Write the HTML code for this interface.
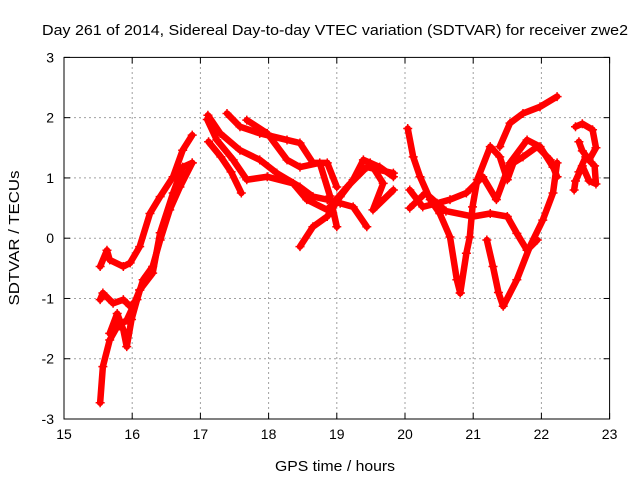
<!DOCTYPE html>
<html><head><meta charset="utf-8"><style>
body{margin:0;background:#fff;}
svg{display:block;font-family:"Liberation Sans",sans-serif;}
</style></head><body>
<svg id="chart" width="640" height="480">
<rect width="640" height="480" fill="#fff"/>
<text x="335" y="35" font-size="14.5" text-anchor="middle" textLength="586" lengthAdjust="spacingAndGlyphs">Day 261 of 2014, Sidereal Day-to-day VTEC variation (SDTVAR) for receiver zwe2</text>
<text x="335" y="471" font-size="14.5" text-anchor="middle" textLength="120" lengthAdjust="spacingAndGlyphs">GPS time / hours</text>
<text x="19" y="238" font-size="14.5" text-anchor="middle" textLength="135" lengthAdjust="spacingAndGlyphs" transform="rotate(-90 19 238)">SDTVAR / TECUs</text>
<g id="grid"></g><g id="ticks"></g><g id="marks"></g>
<rect x="64" y="57.4" width="545.6" height="361.6" fill="none" stroke="#000" stroke-width="1"/>
</svg>
<script>
const xTicks=[15,16,17,18,19,20,21,22,23];
const yTicks=[-3,-2,-1,0,1,2,3];
const trackA=[[15.53,-2.73],[15.57,-2.13],[15.67,-1.69],[15.78,-1.47],[15.92,-1.36],[16.01,-1.14],[16.11,-0.86],[16.3,-0.58],[16.41,0.09],[16.6,0.75],[16.74,1.18],[16.88,1.25]];
const trackB=[[15.53,-0.47],[15.63,-0.2],[15.67,-0.36],[15.87,-0.47],[15.97,-0.41],[16.11,-0.14],[16.26,0.41],[16.41,0.69],[16.6,1.02],[16.74,1.46],[16.88,1.71]];
const trackC=[[15.53,-1.02],[15.57,-0.91],[15.72,-1.08],[15.87,-1.02],[15.97,-1.13],[16.07,-1.02],[16.16,-0.69],[16.3,-0.47],[16.41,-0.03],[16.55,0.47],[16.7,0.85],[16.88,1.25]];
const trackD=[[15.67,-1.58],[15.78,-1.25],[15.87,-1.52],[15.92,-1.8],[15.99,-1.35],[16.11,-0.86]];
const trackE=[[17.1,1.97],[17.24,1.63],[17.48,1.3],[17.68,0.97],[17.98,1.02],[18.36,0.91],[18.56,0.64],[18.86,0.47],[19.15,0.85],[19.44,1.18],[19.83,1.08]];
const trackF=[[17.39,2.07],[17.58,1.85],[17.87,1.74],[18.27,1.63],[18.46,1.58],[18.65,1.25],[18.86,1.25],[19.0,0.85]];
const trackG=[[17.11,2.04],[17.29,1.74],[17.58,1.46],[17.87,1.3],[18.12,1.08],[18.46,0.85],[18.65,0.69],[18.86,0.64],[19.05,0.58],[19.24,0.52],[19.44,0.19]];
const trackH=[[18.46,-0.14],[18.65,0.19],[18.86,0.36],[19.05,0.69],[19.24,0.97],[19.39,1.3],[19.63,1.18],[19.83,1.02]];
const trackI=[[17.12,1.6],[17.3,1.35],[17.45,1.1],[17.6,0.75]];
const trackJ=[[17.68,1.96],[17.98,1.74],[18.27,1.3],[18.46,1.18],[18.75,1.25],[18.9,0.7],[19.0,0.19]];
const trackK=[[19.49,1.25],[19.68,0.91],[19.53,0.47],[19.83,0.8]];
const trackL=[[20.04,1.82],[20.12,1.35],[20.22,1.02],[20.37,0.64],[20.51,0.41],[20.66,0.02],[20.76,-0.69],[20.81,-0.91]];
const trackM=[[20.81,-0.91],[20.9,-0.25],[20.95,0.02],[20.99,0.52],[21.06,0.97],[21.25,1.52],[21.39,1.35],[21.5,0.97],[21.59,1.25],[21.73,1.35],[21.94,1.52],[22.13,1.3],[22.23,1.02]];
const trackN=[[20.07,0.8],[20.26,0.52],[20.47,0.58],[20.66,0.64],[20.9,0.75],[21.14,1.02],[21.34,0.64],[21.54,1.25],[21.79,1.63],[21.98,1.52],[22.17,1.18]];
const trackO=[[21.2,-0.03],[21.29,-0.47],[21.37,-0.9],[21.44,-1.13],[21.64,-0.69],[21.83,-0.14],[22.02,0.3],[22.17,0.75],[22.23,1.25]];
const trackP=[[21.39,1.52],[21.54,1.91],[21.73,2.07],[21.98,2.18],[22.23,2.35]];
const trackQ=[[20.07,0.5],[20.3,0.75],[20.6,0.45],[21.0,0.36],[21.25,0.41],[21.5,0.36],[21.64,0.08],[21.79,-0.2],[21.94,-0.03]];
const trackS=[[22.5,1.85],[22.6,1.9],[22.75,1.8],[22.8,1.5],[22.7,1.3],[22.6,1.45],[22.55,1.6]];
const trackT=[[22.48,0.8],[22.5,0.95],[22.6,1.2],[22.7,0.95],[22.8,0.9],[22.78,1.2],[22.65,1.35],[22.55,1.1]];
const tracks=[trackA,trackB,trackC,trackD,trackE,trackF,trackG,trackH,trackI,trackJ,trackK,trackL,trackM,trackN,trackO,trackP,trackQ,trackS,trackT];

const X0=64,X1=609.6,Y0=419,Y1=57.4;
function xs(h){return X0+(h-15)/(23-15)*(X1-X0);}
function ys(v){return Y0-(v+3)/6*(Y0-Y1);}
const NS='http://www.w3.org/2000/svg';
const grid=document.getElementById('grid'),ticks=document.getElementById('ticks'),marks=document.getElementById('marks');
function mk(tag,attrs,parent){const e=document.createElementNS(NS,tag);for(const k in attrs)e.setAttribute(k,attrs[k]);parent.appendChild(e);return e;}
xTicks.forEach(t=>{
  const x=xs(t);
  if(t>15&&t<23){const g=mk('line',{x1:x,x2:x,y1:Y0,y2:Y1,stroke:'#a0a0a0','stroke-dasharray':'2,3'},grid);
  
  }
  mk('line',{x1:x,x2:x,y1:Y0,y2:Y0-6,stroke:'#000'},ticks);
  mk('line',{x1:x,x2:x,y1:Y1,y2:Y1+6,stroke:'#000'},ticks);
  const tx=mk('text',{x:x,y:Y0+20,'font-size':'14','text-anchor':'middle'},ticks);
  tx.textContent=t;
  
  
});
yTicks.forEach(t=>{
  const y=ys(t);
  if(t>-3&&t<3){const g=mk('line',{x1:X0,x2:X1,y1:y,y2:y,stroke:'#a0a0a0','stroke-dasharray':'2,3'},grid);
  
  }
  mk('line',{x1:X0,x2:X0+6,y1:y,y2:y,stroke:'#000'},ticks);
  mk('line',{x1:X1,x2:X1-6,y1:y,y2:y,stroke:'#000'},ticks);
  const tx=mk('text',{x:X0-10,y:y+5,'font-size':'14','text-anchor':'end'},ticks);
  tx.textContent=t;
  
  
});
tracks.forEach((tr,i)=>{
  const pl=mk('polyline',{points:tr.map(p=>xs(p[0])+','+ys(p[1])).join(' '),fill:'none',stroke:'#f00','stroke-width':'6.5','stroke-linejoin':'round','stroke-linecap':'round'},marks);
  
  
  tr.forEach(p=>{
    const x=xs(p[0]),y=ys(p[1]);
    const m=mk('path',{d:`M${x-4.5},${y}h9M${x},${y-4.5}v9`,stroke:'#f00','stroke-width':'1.5'},marks);
    
    
  });
});
</script>
</body></html>
